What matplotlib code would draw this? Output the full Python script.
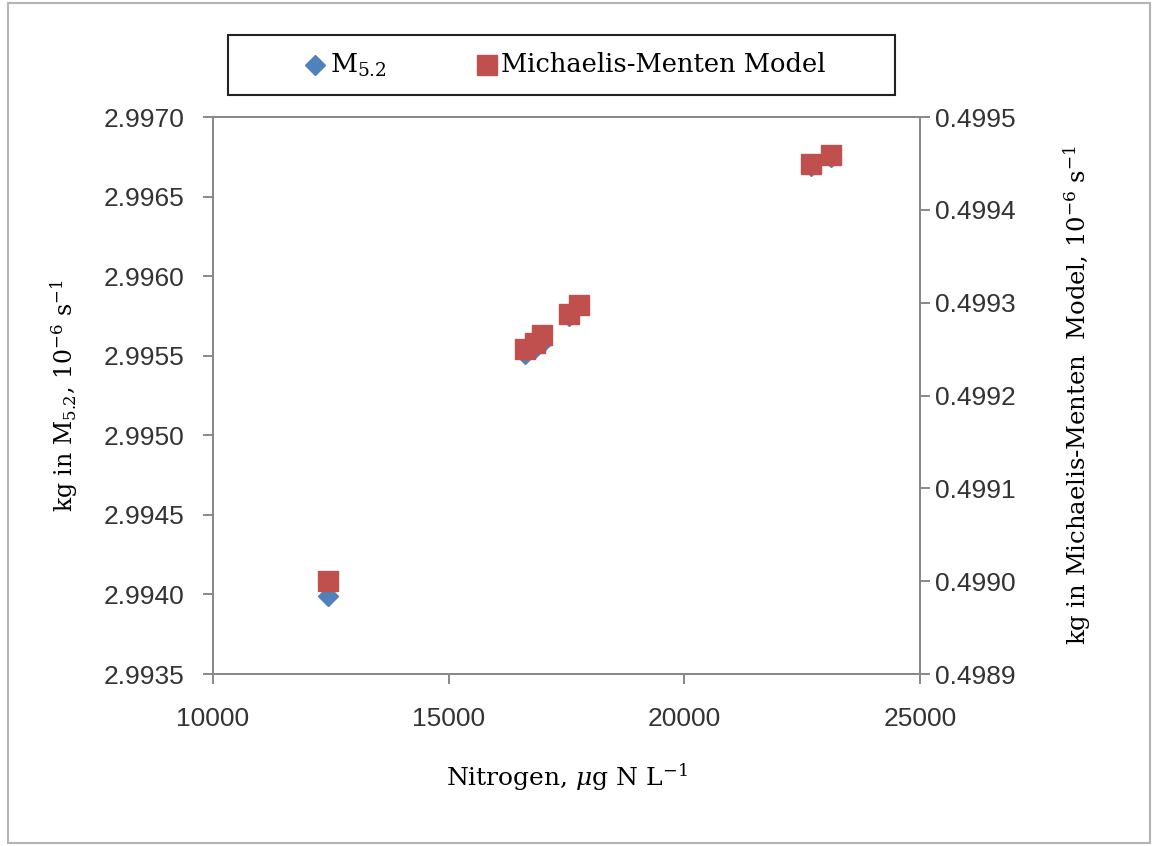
import matplotlib
matplotlib.use("Agg")
import matplotlib.pyplot as plt
from matplotlib.lines import Line2D
from matplotlib.patches import Rectangle
from matplotlib.ticker import FixedLocator, FormatStrFormatter

# Nitrogen concentration (ug N/L) and fitted kg values
nitrogen = [12450, 16620, 16830, 16980, 17560, 17770, 22690, 23110]
kg_m52 = [2.99399, 2.99551, 2.99555, 2.99558, 2.99575, 2.99582, 2.99669, 2.99675]
kg_mm = [0.49900, 0.49925, 0.499257, 0.499265, 0.499288, 0.499298, 0.499449, 0.499459]

x_ticks = [10000, 15000, 20000, 25000]
left_ticks = [2.9935, 2.9940, 2.9945, 2.9950, 2.9955, 2.9960, 2.9965, 2.9970]
right_ticks = [0.4989, 0.4990, 0.4991, 0.4992, 0.4993, 0.4994, 0.4995]

series_names = ["M$_{5.2}$", "Michaelis-Menten Model"]

BLUE = "#4F81BD"
RED = "#C0504D"
SPINE = "#888888"

plt.rcParams["mathtext.fontset"] = "dejavuserif"
SERIF = "DejaVu Serif"
SANS = "Liberation Sans"

W, H = 1154, 846
fig = plt.figure(figsize=(W / 100, H / 100), dpi=100)

def fx(px):
    return px / W

def fy(py):
    return 1 - py / H

# outer chart border
fig.add_artist(Rectangle((fx(8), fy(843)), fx(1150) - fx(8), fy(3) - fy(843),
                         transform=fig.transFigure, fill=False,
                         edgecolor="#b4b4b4", linewidth=1.5))

ax = fig.add_axes([fx(213), fy(674), fx(920) - fx(213), fy(117) - fy(674)])
ax2 = ax.twinx()

ax.plot(nitrogen, kg_m52, linestyle="none", marker="D", markersize=10,
        color=BLUE, markeredgecolor=BLUE, zorder=3)
ax2.plot(nitrogen, kg_mm, linestyle="none", marker="s", markersize=15,
         color=RED, markeredgecolor=RED, zorder=3)

ax.set_xlim(10000, 25000)
ax.set_ylim(2.9935, 2.9970)
ax2.set_ylim(0.4989, 0.4995)
ax.xaxis.set_major_locator(FixedLocator(x_ticks))
ax.yaxis.set_major_locator(FixedLocator(left_ticks))
ax2.yaxis.set_major_locator(FixedLocator(right_ticks))
ax.xaxis.set_major_formatter(FormatStrFormatter("%d"))
ax.yaxis.set_major_formatter(FormatStrFormatter("%.4f"))
ax2.yaxis.set_major_formatter(FormatStrFormatter("%.4f"))

for a in (ax, ax2):
    for s in a.spines.values():
        s.set_color(SPINE)
        s.set_linewidth(1.4)
    a.tick_params(direction="out", length=7.5, width=1.4, color=SPINE,
                  labelsize=19, labelcolor="#333333")
    for lbl in a.get_xticklabels() + a.get_yticklabels():
        lbl.set_fontfamily(SANS)
ax.tick_params(axis="y", pad=13)
ax2.tick_params(axis="y", pad=3)
ax.tick_params(axis="x", pad=16)

ax.set_xlabel("Nitrogen, $\\mu$g N L$^{-1}$", fontfamily=SERIF, fontsize=18,
              labelpad=22)
ax.set_ylabel("kg in M$_{5.2}$, 10$^{-6}$ s$^{-1}$", fontfamily=SERIF,
              fontsize=17, labelpad=17)
ax2.set_ylabel("kg in Michaelis-Menten  Model, 10$^{-6}$ s$^{-1}$",
               fontfamily=SERIF, fontsize=17.5, labelpad=33)

# legend box across the top
fig.add_artist(Rectangle((fx(228), fy(95)), fx(895) - fx(228), fy(35) - fy(95),
                         transform=fig.transFigure, fill=False,
                         edgecolor="#222222", linewidth=1.5))
fig.add_artist(Line2D([fx(315)], [fy(65)], transform=fig.transFigure,
                      marker="D", markersize=10, color=BLUE, linestyle="none"))
fig.add_artist(Line2D([fx(487)], [fy(65)], transform=fig.transFigure,
                      marker="s", markersize=15, color=RED, linestyle="none"))
fig.text(fx(330), fy(65), series_names[0], fontfamily=SERIF, fontsize=19,
         va="center", ha="left")
fig.text(fx(501), fy(65), series_names[1], fontfamily=SERIF, fontsize=18.5,
         va="center", ha="left")

fig.savefig("out.png", dpi=100, facecolor="white")
